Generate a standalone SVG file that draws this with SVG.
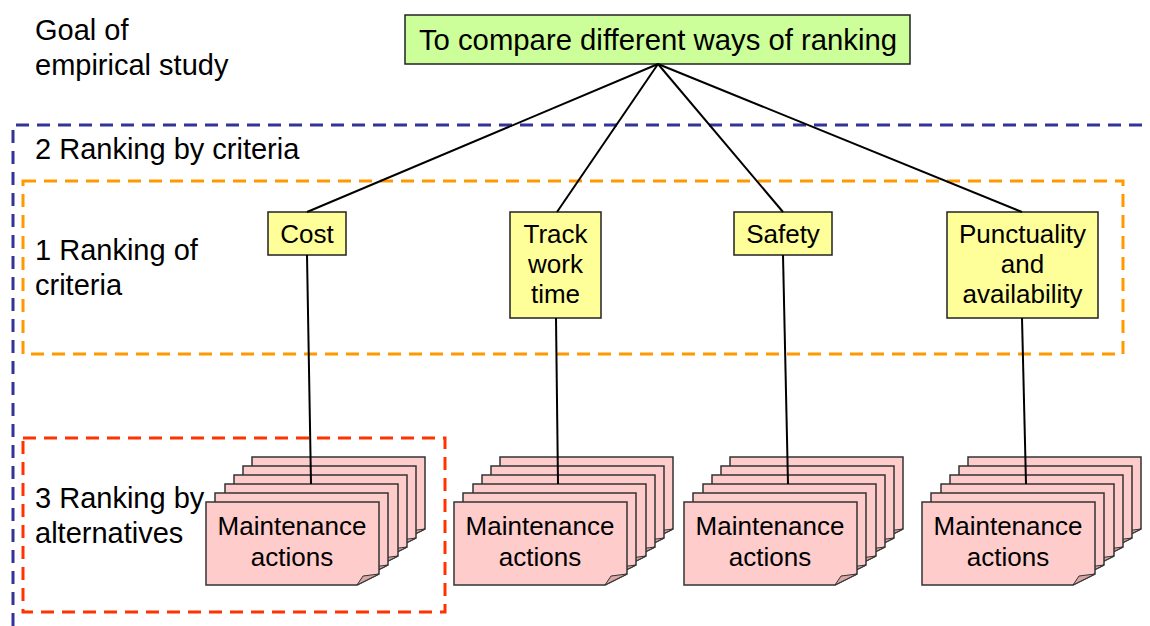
<svg xmlns="http://www.w3.org/2000/svg" xmlns:xlink="http://www.w3.org/1999/xlink" width="1150" height="626" viewBox="0 0 1150 626">
<style>
text{font-family:"Liberation Sans",Arial,sans-serif;fill:#000}
.lbl{font-size:29px}
.title{font-size:29.3px;text-anchor:middle}
.crit{font-size:26px;text-anchor:middle}
.card-t{font-size:26px;text-anchor:middle}
.crit-box{fill:#ffff99;stroke:#222;stroke-width:1.5}
.goal-box{fill:#ccff99;stroke:#222;stroke-width:1.5}
.card{fill:#ffcccc;stroke:#333;stroke-width:1.5}
.fold{fill:#d9a6a6;stroke:#333;stroke-width:1}
.conn{stroke:#000;stroke-width:2;fill:none}
.dash{fill:none;stroke-width:3;stroke-dasharray:13 8}
</style>
<defs>
<g id="card">
<path class="card" d="M0,0 H173 V72 L151,83 H0 Z"/>
<path class="fold" d="M151,83 L157,74 L173,72 Z"/>
</g>
<g id="stack">
<use xlink:href="#card" href="#card" x="46" y="-45"/>
<use xlink:href="#card" href="#card" x="37" y="-36"/>
<use xlink:href="#card" href="#card" x="28" y="-27"/>
<use xlink:href="#card" href="#card" x="19" y="-18"/>
<use xlink:href="#card" href="#card" x="9" y="-9"/>
<use xlink:href="#card" href="#card" x="0" y="0"/>
</g>
</defs>
<g id="regions">
<path class="dash" stroke="#333399" d="M13,626 V125 H1150"/>
<rect class="dash" stroke="#ff9900" x="23" y="181" width="1100" height="173"/>
<rect class="dash" stroke="#ff3300" x="23" y="438" width="422" height="174"/>
</g>
<g id="labels">
<text class="lbl" x="35" y="40">Goal of</text>
<text class="lbl" x="35" y="75">empirical study</text>
<text class="lbl" x="35" y="159">2 Ranking by criteria</text>
<text class="lbl" x="35" y="260">1 Ranking of</text>
<text class="lbl" x="35" y="295">criteria</text>
<text class="lbl" x="35" y="508">3 Ranking by</text>
<text class="lbl" x="35" y="543">alternatives</text>
</g>
<g id="goal">
<rect class="goal-box" x="405" y="15" width="505" height="49"/>
<text class="title" x="658" y="50">To compare different ways of ranking</text>
</g>
<g id="cost">
<rect class="crit-box" x="268" y="212" width="78" height="43"/>
<text class="crit" x="307" y="243">Cost</text>
</g>
<g id="track">
<rect class="crit-box" x="510" y="212" width="91" height="106"/>
<text class="crit" x="555.5" y="243">Track</text>
<text class="crit" x="555.5" y="273">work</text>
<text class="crit" x="555.5" y="303">time</text>
</g>
<g id="safety">
<rect class="crit-box" x="734" y="212" width="98" height="43"/>
<text class="crit" x="783" y="243">Safety</text>
</g>
<g id="punctuality">
<rect class="crit-box" x="947" y="212" width="151" height="106"/>
<text class="crit" x="1022.5" y="243">Punctuality</text>
<text class="crit" x="1022.5" y="273">and</text>
<text class="crit" x="1022.5" y="303">availability</text>
</g>
<g id="actions1">
<use xlink:href="#stack" href="#stack" x="206" y="502"/>
<text class="card-t" x="292" y="535">Maintenance</text>
<text class="card-t" x="292" y="566">actions</text>
</g>
<g id="actions2">
<use xlink:href="#stack" href="#stack" x="454" y="502"/>
<text class="card-t" x="540" y="535">Maintenance</text>
<text class="card-t" x="540" y="566">actions</text>
</g>
<g id="actions3">
<use xlink:href="#stack" href="#stack" x="684" y="502"/>
<text class="card-t" x="770" y="535">Maintenance</text>
<text class="card-t" x="770" y="566">actions</text>
</g>
<g id="actions4">
<use xlink:href="#stack" href="#stack" x="922" y="502"/>
<text class="card-t" x="1008" y="535">Maintenance</text>
<text class="card-t" x="1008" y="566">actions</text>
</g>
<g id="connectors">
<line class="conn" x1="658" y1="64" x2="307" y2="212"/>
<line class="conn" x1="658" y1="64" x2="557" y2="212"/>
<line class="conn" x1="658" y1="64" x2="783" y2="212"/>
<line class="conn" x1="658" y1="64" x2="1022" y2="212"/>
<line class="conn" x1="307" y1="255" x2="311" y2="484"/>
<line class="conn" x1="556" y1="318" x2="558" y2="484"/>
<line class="conn" x1="783" y1="255" x2="788" y2="484"/>
<line class="conn" x1="1022" y1="318" x2="1026" y2="484"/>
</g>
</svg>
